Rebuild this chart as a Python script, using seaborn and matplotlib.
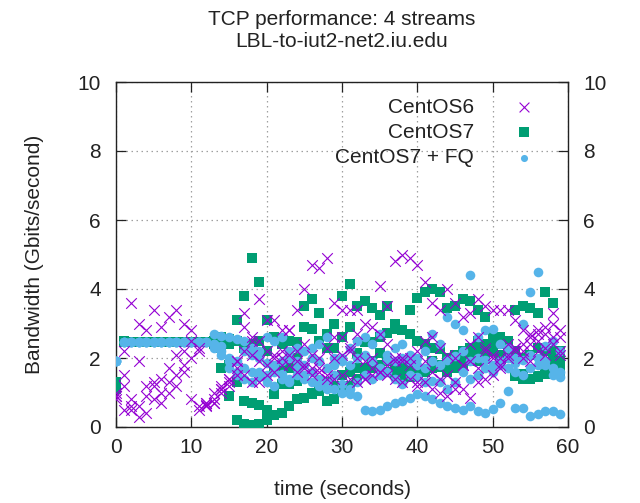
import numpy as np
import pandas as pd
import matplotlib
matplotlib.use("Agg")
import matplotlib.pyplot as plt
import seaborn as sns

# ---------------- data (Gbits/second, one value per second per stream) -------------
seconds = list(range(60))

centos6_s1 = [0.9, 2.2, 3.6, 3.0, 2.8, 3.4, 2.9, 3.2, 3.4, 3.0,
              2.8, 2.2, 0.6, 1.0, 1.2, 1.4, 1.9, 3.3, 2.5, 3.7,
              3.1, 3.1, 2.8, 2.8, 3.4, 4.0, 4.7, 4.6, 4.9, 3.6,
              3.4, 3.4, 3.4, 3.0, 2.9, 4.1, 3.5, 4.8, 5.0, 4.9,
              4.7, 4.2, 3.6, 3.4, 4.0, 3.6, 3.2, 3.3, 3.7, 3.5,
              3.4, 3.4, 3.4, 3.1, 2.8, 2.7, 2.8, 2.7, 3.3, 2.6]
centos6_s2 = [1.0, 1.5, 0.8, 1.9, 1.2, 1.2, 1.4, 1.7, 2.1, 2.2,
              2.5, 2.3, 0.7, 0.7, 1.1, 1.4, 1.9, 2.9, 2.6, 2.5,
              2.2, 2.1, 2.0, 2.8, 2.2, 2.4, 1.7, 1.7, 1.5, 2.6,
              2.6, 2.3, 2.7, 1.4, 2.0, 2.7, 2.4, 2.0, 1.9, 2.0,
              2.2, 2.5, 2.6, 2.3, 2.1, 2.0, 1.8, 2.4, 2.6, 2.3,
              2.1, 2.0, 2.4, 2.3, 2.2, 2.4, 2.5, 2.3, 2.6, 2.1]
centos6_s3 = [0.8, 0.5, 0.6, 0.3, 0.4, 0.8, 1.0, 1.3, 1.5, 1.8,
              2.0, 0.6, 0.65, 0.8, 1.0, 1.2, 1.5, 1.5, 1.3, 1.3,
              1.5, 1.6, 1.8, 1.8, 1.6, 1.7, 1.5, 1.6, 1.4, 1.4,
              1.5, 1.4, 1.3, 1.4, 1.5, 1.6, 1.5, 1.4, 1.3, 1.4,
              1.2, 1.3, 1.1, 1.0, 0.9, 1.1, 1.1, 0.85, 1.3, 1.4,
              1.5, 1.7, 2.0, 2.3, 2.4, 2.6, 2.7, 2.9, 3.0, 2.8]
centos6_s4 = [0.9, 1.2, 0.5, 0.6, 0.9, 1.3, 0.7, 1.0, 1.2, 1.6,
              0.8, 0.5, 0.7, 0.7, 1.1, 1.3, 1.7, 2.2, 2.1, 1.9,
              1.8, 2.0, 2.2, 2.1, 1.9, 1.8, 2.1, 2.0, 2.3, 2.0,
              2.1, 2.2, 2.0, 1.9, 1.7, 1.6, 1.8, 1.9, 2.0, 1.8,
              1.3, 1.9, 1.6, 1.4, 1.5, 1.3, 1.8, 1.9, 1.7, 2.2,
              2.0, 1.8, 2.1, 2.2, 2.0, 1.9, 2.2, 2.1, 2.4, 2.2]

centos7_s1 = [1.3, 2.5, 2.45, 2.45, 2.45, 2.45, 2.45, 2.45, 2.45, 2.45,
              2.45, 2.45, 2.45, 2.5, 2.6, 2.55, 3.1, 3.8, 4.9, 4.2,
              3.1, 2.6, 2.4, 2.5, 2.45, 3.5, 3.7, 3.3, 2.7, 3.0,
              3.8, 4.15, 3.5, 3.65, 3.45, 3.25, 3.5, 3.0, 2.8, 3.4,
              3.75, 3.9, 4.0, 3.9, 3.45, 3.5, 3.7, 3.65, 3.4, 3.2,
              2.5, 2.6, 2.5, 3.4, 3.5, 3.45, 3.3, 3.9, 3.6, 2.2]
centos7_s2 = [1.1, 2.45, 2.45, 2.45, 2.45, 2.45, 2.45, 2.45, 2.45, 2.45,
              2.45, 2.45, 2.45, 2.4, 2.5, 2.4, 2.5, 2.3, 2.4, 2.5,
              2.2, 1.75, 1.75, 1.7, 2.0, 2.9, 2.85, 2.5, 2.3, 2.3,
              2.6, 2.9, 2.15, 2.45, 2.45, 2.6, 2.73, 2.85, 2.8, 2.7,
              2.5, 2.4, 2.3, 2.27, 2.0, 2.1, 2.2, 2.3, 2.5, 2.4,
              2.6, 2.4, 2.5, 2.2, 2.0, 2.1, 2.3, 2.2, 1.95, 1.7]
centos7_s3 = [1.2, 2.45, 2.45, 2.45, 2.45, 2.45, 2.45, 2.45, 2.45, 2.45,
              2.45, 2.45, 2.45, 2.45, 1.7, 0.9, 0.2, 0.1, 0.05, 0.1,
              0.2, 0.35, 0.4, 0.6, 0.8, 0.85, 0.95, 1.05, 0.75, 0.8,
              1.05, 1.2, 1.4, 1.7, 1.9, 2.15, 1.9, 1.8, 1.75, 1.7,
              1.65, 1.6, 1.7, 1.8, 1.85, 1.9, 2.0, 2.1, 2.2, 2.25,
              2.3, 2.4, 2.35, 2.0, 1.55, 1.4, 1.45, 1.55, 1.65, 1.6]
centos7_s4 = [1.2, 2.45, 2.45, 2.45, 2.45, 2.45, 2.45, 2.45, 2.45, 2.45,
              2.45, 2.45, 2.45, 2.4, 2.3, 1.8, 1.3, 0.75, 0.7, 0.65,
              0.5, 0.95, 1.25, 1.25, 1.34, 0.84, 1.0, 1.05, 1.3, 1.2,
              1.5, 1.6, 1.7, 1.6, 1.72, 1.8, 1.6, 1.55, 1.5, 1.45,
              1.6, 1.65, 1.9, 1.75, 1.6, 1.7, 1.8, 1.9, 1.9, 2.0,
              2.2, 2.1, 2.0, 1.48, 1.4, 1.4, 1.48, 1.57, 2.2, 1.9]

centos7fq_s1 = [1.92, 2.45, 2.45, 2.45, 2.45, 2.45, 2.45, 2.45, 2.45, 2.45,
                2.45, 2.45, 2.45, 2.7, 2.65, 2.6, 2.55, 2.5, 2.3, 2.2,
                2.6, 2.5, 2.6, 2.2, 2.3, 2.2, 2.3, 2.4, 2.6, 2.0,
                2.0, 2.3, 2.5, 2.6, 2.4, 2.7, 2.1, 2.3, 2.4, 2.1,
                2.0, 2.2, 2.7, 2.4, 3.2, 3.0, 2.8, 4.4, 2.6, 2.8,
                2.85, 2.4, 2.3, 2.0, 3.0, 3.9, 4.5, 2.35, 2.5, 2.2]
centos7fq_s2 = [1.92, 2.45, 2.45, 2.45, 2.45, 2.45, 2.45, 2.45, 2.45, 2.45,
                2.45, 2.45, 2.45, 2.4, 2.35, 2.0, 1.9, 2.2, 2.1, 2.0,
                1.85, 1.8, 1.9, 2.0, 1.9, 1.8, 2.0, 1.9, 1.7, 1.8,
                1.9, 1.8, 2.0, 2.1, 1.9, 1.7, 1.95, 1.9, 2.0, 1.9,
                1.8, 1.7, 1.9, 1.8, 1.95, 2.05, 2.2, 1.9, 2.0, 1.95,
                1.8, 1.9, 2.0, 1.85, 1.95, 2.1, 2.0, 1.8, 1.5, 1.45]
centos7fq_s3 = [1.92, 2.45, 2.45, 2.45, 2.45, 2.45, 2.45, 2.45, 2.45, 2.45,
                2.45, 2.45, 2.45, 2.3, 2.1, 1.7, 1.5, 1.7, 1.6, 1.45,
                1.5, 1.6, 1.55, 1.4, 1.7, 1.5, 1.6, 1.4, 1.3, 1.5,
                1.25, 1.1, 1.3, 1.5, 1.4, 1.5, 1.6, 1.4, 1.25, 1.5,
                1.45, 1.3, 1.34, 1.3, 1.1, 1.3, 1.6, 1.4, 1.5, 1.7,
                1.6, 1.8, 1.7, 1.6, 1.5, 1.7, 1.8, 1.9, 1.7, 1.6]
centos7fq_s4 = [1.92, 2.45, 2.45, 2.45, 2.45, 2.45, 2.45, 2.45, 2.45, 2.45,
                2.45, 2.45, 2.45, 2.4, 2.2, 1.9, 1.6, 1.4, 1.3, 1.6,
                1.3, 1.2, 1.4, 1.3, 1.5, 1.4, 1.3, 1.2, 1.1, 1.1,
                1.0, 0.95, 0.9, 0.5, 0.45, 0.5, 0.6, 0.7, 0.75, 0.85,
                0.95, 0.9, 0.8, 0.7, 0.6, 0.55, 0.5, 0.6, 0.47, 0.41,
                0.52, 0.7, 1.05, 0.55, 0.55, 0.32, 0.38, 0.47, 0.47, 0.38]

series_names = ["CentOS6", "CentOS7", "CentOS7 + FQ"]
x_ticks = [0, 10, 20, 30, 40, 50, 60]
y_ticks = [0, 2, 4, 6, 8, 10]
title_text = "TCP performance: 4 streams\nLBL-to-iut2-net2.iu.edu"
x_label = "time (seconds)"
y_label = "Bandwidth (Gbits/second)"


def long_frame(streams):
    parts = [pd.DataFrame({"time": seconds, "bw": s, "stream": i})
             for i, s in enumerate(streams)]
    return pd.concat(parts, ignore_index=True)


df6 = long_frame([centos6_s1, centos6_s2, centos6_s3, centos6_s4])
df7 = long_frame([centos7_s1, centos7_s2, centos7_s3, centos7_s4])
df7fq = long_frame([centos7fq_s1, centos7fq_s2, centos7fq_s3, centos7fq_s4])

# ---------------- style -------------
sns.set_theme(style="white")
plt.rcParams["font.family"] = ["Liberation Sans", "DejaVu Sans"]
FS = 15

purple = "#9400D3"
green = "#009E73"
blue = "#56B4E9"
ink = "#222222"

fig = plt.figure(figsize=(6.4, 5.03), dpi=100)
ax = fig.add_axes([116 / 640, 1 - 427 / 503, (568 - 116) / 640, (427 - 82) / 503])

sns.scatterplot(data=df7, x="time", y="bw", ax=ax, marker="s", s=56,
                color=green, linewidth=0, zorder=3, label=series_names[1])
sns.scatterplot(data=df7fq, x="time", y="bw", ax=ax, marker="o", s=48,
                color=blue, linewidth=0, zorder=4, label=series_names[2])
sns.scatterplot(data=df6, x="time", y="bw", ax=ax, marker="x", s=58,
                color=purple, linewidth=0.8, zorder=5, label=series_names[0])

ax.set_xlim(0, 60)
ax.set_ylim(0, 10)
ax.set_xticks(x_ticks)
ax.set_yticks(y_ticks)
ax.set_xticklabels([str(v) for v in x_ticks])
ax.set_yticklabels([str(v) for v in y_ticks])

ax.grid(True, color="#a0a0a0", linestyle=(0, (1.2, 2.8)), linewidth=0.9, zorder=0)
ax.set_axisbelow(True)
for sp in ax.spines.values():
    sp.set_color(ink)
    sp.set_linewidth(1.0)
    sp.set_visible(True)

ax.tick_params(axis="both", which="both", direction="in", length=7, width=0.9,
               color=ink, labelsize=FS, labelcolor=ink,
               top=True, right=True, left=True, bottom=True,
               labelright=True, labelleft=True)
ax.tick_params(axis="y", pad=11)
ax.tick_params(axis="x", pad=8)

ax.set_xlabel(x_label, fontsize=FS, color=ink)
ax.set_ylabel(y_label, fontsize=FS, color=ink)
ax.xaxis.set_label_coords(0.5, -0.155)
ax.yaxis.set_label_coords(-0.16, 0.5)

ax.set_title(title_text, fontsize=FS, color=ink, pad=25, linespacing=1.2)

# legend: label text right-aligned, marker after text (gnuplot-like)
handles, labels = ax.get_legend_handles_labels()
order = [labels.index(n) for n in series_names]
leg = ax.legend([handles[i] for i in order], [labels[i] for i in order],
                loc="upper right", bbox_to_anchor=(0.935, 0.955),
                frameon=False, markerfirst=False, fontsize=FS,
                handlelength=1.4, handletextpad=1.7, labelspacing=0.3,
                borderpad=0, borderaxespad=0, scatterpoints=1)
for t in leg.get_texts():
    t.set_color(ink)
try:
    for col in leg._legend_handle_box.get_children():
        col.align = "right"
except Exception:
    pass
for h, sz in zip(leg.legend_handles, [50, 44, 26]):
    try:
        h.set_sizes([sz])
    except Exception:
        pass

fig.savefig("out.png", dpi=100)
